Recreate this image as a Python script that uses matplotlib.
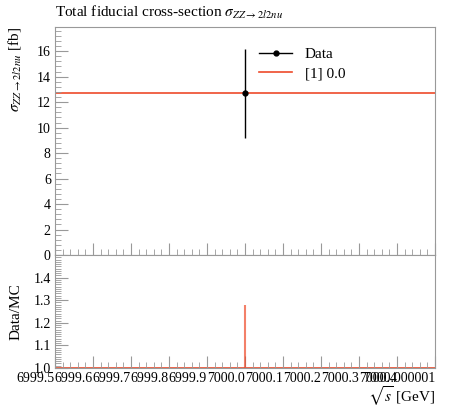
import matplotlib
matplotlib.use("Agg")
import matplotlib.pyplot as plt
from matplotlib.ticker import MultipleLocator, FixedLocator
from matplotlib.lines import Line2D

plt.rcParams['font.family'] = ['Liberation Serif', 'DejaVu Serif']
plt.rcParams['mathtext.fontset'] = 'stix'

# data
bin_edges = [6999.5, 7000.5]
mc_value = [12.7]
data_x = [7000.0]
data_y = [12.7]
data_err = [3.5]
ratio_x = [7000.0]
ratio_lo = [1.0]
ratio_hi = [1.28]
ratio_ticks = [1.0, 1.1, 1.2, 1.3, 1.4]
xticks = [6999.5, 6999.6, 6999.7, 6999.8, 6999.9, 7000.0, 7000.1, 7000.2, 7000.3, 7000.4, 7000.5]
xticklabels = ["6999.5", "6999.6", "6999.7", "6999.8", "6999.9", "7000.0",
               "7000.1", "7000.2", "7000.3", "7000.4", "7000.000001"]

red = '#ee4a2a'
grey = '#999999'

fig = plt.figure(figsize=(4.5, 4.07), dpi=100)
ax = fig.add_axes([0.1222, 0.3735, 0.8445, 0.5602])
rax = fig.add_axes([0.1222, 0.0958, 0.8445, 0.2777], sharex=ax)

ax.stairs(mc_value, bin_edges, color=red, lw=1.2, baseline=None)
ax.errorbar(data_x, data_y, yerr=data_err, fmt='o', color='black', ms=3.5,
            elinewidth=1, capsize=0, zorder=5)

ax.set_xlim(6999.5, 7000.5)
ax.set_ylim(0, 17.9)
ax.yaxis.set_major_locator(MultipleLocator(2))
ax.yaxis.set_minor_locator(MultipleLocator(0.4))

handles = [Line2D([], [], color='black', marker='o', ms=3.5, lw=1),
           Line2D([], [], color=red, lw=1.2)]
ax.legend(handles, ['Data', '[1] 0.0'], loc='upper left', bbox_to_anchor=(0.5, 0.97),
          frameon=False, fontsize=11, handlelength=2.2, labelspacing=0.35)

ax.set_title(r'Total fiducial cross-section $\sigma_{ZZ\to 2l2nu}$', loc='left',
             fontsize=11, pad=7)
ax.set_ylabel(r'$\sigma_{ZZ\to 2l2nu}$ [fb]', fontsize=11, ha='right')
ax.yaxis.set_label_coords(-0.085, 1.0)

rax.stairs([1.0], bin_edges, color=red, lw=1.2, baseline=None)
rax.vlines(ratio_x, ratio_lo, ratio_hi, color=red, alpha=0.7, lw=1.5)
rax.set_ylim(1.0, 1.5)
rax.yaxis.set_major_locator(FixedLocator(ratio_ticks))
rax.yaxis.set_minor_locator(MultipleLocator(0.01))
rax.set_ylabel('Data/MC', fontsize=11)
rax.yaxis.set_label_coords(-0.085, 0.5)
rax.set_xlabel(r'$\sqrt{s}$ [GeV]', fontsize=11, ha='right')
rax.xaxis.set_label_coords(1.0, -0.145)

rax.xaxis.set_major_locator(FixedLocator(xticks))
rax.set_xticklabels(xticklabels, ha='right')
rax.xaxis.set_minor_locator(MultipleLocator(0.02))
plt.setp(ax.get_xticklabels(), visible=False)

for a in (ax, rax):
    for s in a.spines.values():
        s.set_color(grey)
    a.tick_params(which='major', direction='in', length=9, color=grey,
                  labelsize=10, top=False, right=False, pad=3)
    a.tick_params(which='minor', direction='in', length=4.5, color=grey,
                  top=False, right=False)

fig.savefig('out.png', dpi=100)
